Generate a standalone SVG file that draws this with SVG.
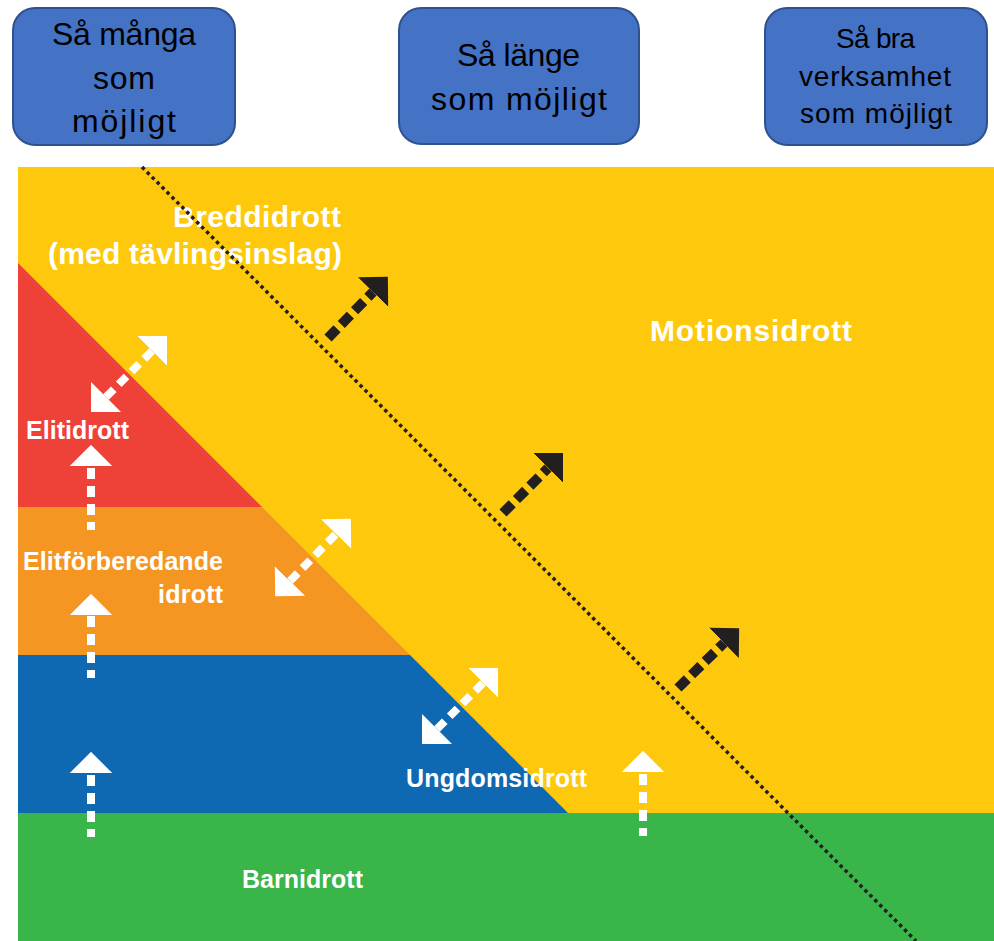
<svg xmlns="http://www.w3.org/2000/svg" width="994" height="941" viewBox="0 0 994 941">
  <defs>
    <style>
      .box { fill: #4472C4; stroke: #2F528F; stroke-width: 2; }
      .btxt { font-family: "Liberation Sans", Arial, sans-serif; fill: #000; text-anchor: start; }
      .lbl { font-family: "Liberation Sans", Arial, sans-serif; font-weight: bold; fill: #FFFFFF; }
      .wsh { stroke: #FFFFFF; stroke-width: 8; fill: none; stroke-dasharray: 11 7; }
      .bsh { stroke: #231F20; stroke-width: 10; fill: none; stroke-dasharray: 13 6; }
      .dot { stroke: #231F20; stroke-width: 3.5; fill: none; stroke-dasharray: 3.5 3.5; }
    </style>
    <marker id="hw" viewBox="0 -21.5 21.5 43" markerUnits="userSpaceOnUse" markerWidth="21.5" markerHeight="43" refX="0" refY="0" orient="auto-start-reverse">
      <path d="M0,-21.2 L21.2,0 L0,21.2 Z" fill="#FFFFFF"/>
    </marker>
    <marker id="hb" viewBox="0 -21.5 21.5 43" markerUnits="userSpaceOnUse" markerWidth="21.5" markerHeight="43" refX="0" refY="0" orient="auto">
      <path d="M0,-21.2 L21.2,0 L0,21.2 Z" fill="#231F20"/>
    </marker>
  </defs>

  <rect width="994" height="941" fill="#FFFFFF"/>

  <!-- Top boxes -->
  <g id="box-many">
    <rect class="box" x="13" y="8" width="222" height="137" rx="22"/>
    <text class="btxt" font-size="32" x="52" y="45" textLength="144">Så många</text>
    <text class="btxt" font-size="32" x="93" y="89" textLength="62">som</text>
    <text class="btxt" font-size="32" x="72" y="132" textLength="104">möjligt</text>
  </g>
  <g id="box-long">
    <rect class="box" x="399" y="8" width="240" height="136" rx="22"/>
    <text class="btxt" font-size="32" x="457" y="66" textLength="123">Så länge</text>
    <text class="btxt" font-size="32" x="431" y="110" textLength="176">som möjligt</text>
  </g>
  <g id="box-good">
    <rect class="box" x="765" y="8" width="222" height="137" rx="22"/>
    <text class="btxt" font-size="28" x="836" y="48" textLength="79">Så bra</text>
    <text class="btxt" font-size="28" x="799" y="86" textLength="152">verksamhet</text>
    <text class="btxt" font-size="28" x="800" y="123" textLength="152">som möjligt</text>
  </g>

  <!-- Regions -->
  <g id="motionsidrott">
    <rect x="18" y="167" width="976" height="646" fill="#FEC90C"/>
    <text class="lbl" font-size="30" x="650" y="341" textLength="202">Motionsidrott</text>
  </g>
  <g id="breddidrott">
    <text class="lbl" font-size="30" x="173" y="227" textLength="168">Breddidrott</text>
    <text class="lbl" font-size="30" x="48" y="264" textLength="294">(med tävlingsinslag)</text>
  </g>
  <g id="elitidrott">
    <polygon points="18,263 262,507 18,507" fill="#EE4137"/>
    <text class="lbl" font-size="25" x="26" y="439" textLength="103">Elitidrott</text>
  </g>
  <g id="elitforberedande">
    <polygon points="18,507 262,507 410,655 18,655" fill="#F59522"/>
    <text class="lbl" font-size="25" x="23" y="570" textLength="200">Elitförberedande</text>
    <text class="lbl" font-size="25" x="158" y="603" textLength="65">idrott</text>
  </g>
  <g id="ungdomsidrott">
    <polygon points="18,655 410,655 568,813 18,813" fill="#0E68B2"/>
    <text class="lbl" font-size="25" x="406" y="787" textLength="181">Ungdomsidrott</text>
  </g>
  <g id="barnidrott">
    <rect x="18" y="813" width="976" height="128" fill="#39B54A"/>
    <text class="lbl" font-size="25" x="242" y="888" textLength="121">Barnidrott</text>
  </g>

  <!-- Connectors -->
  <g id="connectors">
    <line class="dot" x1="142" y1="167" x2="916" y2="941"/>

    <line class="bsh" x1="328" y1="338" x2="373" y2="292" marker-end="url(#hb)"/>
    <line class="bsh" x1="503" y1="513" x2="548" y2="468" marker-end="url(#hb)"/>
    <line class="bsh" x1="678" y1="688" x2="724" y2="643" marker-end="url(#hb)"/>

    <line class="wsh" x1="106" y1="397" x2="152" y2="351" stroke-dasharray="10 6" marker-start="url(#hw)" marker-end="url(#hw)"/>
    <line class="wsh" x1="290" y1="581" x2="336" y2="534" stroke-dasharray="10 6" marker-start="url(#hw)" marker-end="url(#hw)"/>
    <line class="wsh" x1="437" y1="729" x2="483" y2="683" stroke-dasharray="10 6" marker-start="url(#hw)" marker-end="url(#hw)"/>

    <line class="wsh" x1="91" y1="530" x2="91" y2="466" stroke-dashoffset="3" marker-end="url(#hw)"/>
    <line class="wsh" x1="91" y1="678" x2="91" y2="615" stroke-dashoffset="3" marker-end="url(#hw)"/>
    <line class="wsh" x1="91" y1="837" x2="91" y2="773" stroke-dashoffset="3" marker-end="url(#hw)"/>
    <line class="wsh" x1="643" y1="836" x2="643" y2="772" stroke-dashoffset="3" marker-end="url(#hw)"/>
  </g>
</svg>
